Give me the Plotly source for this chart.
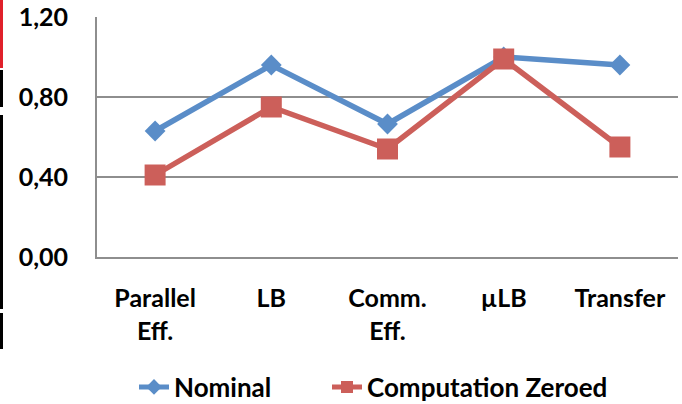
import plotly.graph_objects as go

# Chart data
categories = ["Parallel<br>Eff.", "LB", "Comm.<br>Eff.", "µLB", "Transfer"]
nominal = [0.63, 0.96, 0.665, 1.00, 0.96]
computation_zeroed = [0.41, 0.75, 0.54, 0.99, 0.55]
y_ticks = [0.0, 0.4, 0.8, 1.2]
y_tick_labels = ["0,00", "0,40", "0,80", "1,20"]

W, H = 682, 404
L, R, T, B = 97, 4, 17, 147
FONT = "Lato"
FS = 25
BLUE = "#5A8DC8"
RED = "#CC5F5A"
GRID = "#8E8E8E"

fig = go.Figure()
fig.add_trace(go.Scatter(
    x=categories, y=nominal, name="Nominal", mode="lines+markers",
    line=dict(color=BLUE, width=5.5),
    marker=dict(symbol="diamond", size=16, color=BLUE),
    legend="legend",
))
fig.add_trace(go.Scatter(
    x=categories, y=computation_zeroed, name="Computation Zeroed", mode="lines+markers",
    line=dict(color=RED, width=5.5),
    marker=dict(symbol="square", size=21, color=RED),
    legend="legend2",
))

# Helpers converting page pixels to paper coordinates
pw, ph = W - L - R, H - T - B
def px(x):
    return (x - L) / pw
def py(y):
    return (H - B - y) / ph

edge_strips = [
    (0, 0, 3, 68, "#E0202A"),
    (0, 70, 3, 107, "#000000"),
    (0, 115, 3, 309, "#000000"),
    (0, 313, 3, 349, "#000000"),
]
shapes = [
    dict(type="rect", xref="paper", yref="paper",
         x0=px(x0), x1=px(x1), y0=py(y1), y1=py(y0),
         fillcolor=c, line=dict(width=0), layer="above")
    for x0, y0, x1, y1, c in edge_strips
]

legend_style = dict(
    orientation="h", yanchor="middle", xanchor="left",
    font=dict(family=FONT, size=26, color="#000000", weight="bold"),
    itemsizing="constant", bgcolor="rgba(0,0,0,0)",
)

fig.update_layout(
    width=W, height=H,
    margin=dict(l=L, r=R, t=T, b=B, autoexpand=False),
    paper_bgcolor="white", plot_bgcolor="white",
    font=dict(family=FONT, size=FS, color="#000000"),
    showlegend=True,
    legend=dict(legend_style, x=px(134), y=py(387)),
    legend2=dict(legend_style, x=px(327), y=py(387)),
    shapes=shapes,
    xaxis=dict(
        type="category", range=[-0.5, 4.5],
        showgrid=False, zeroline=False,
        showline=True, linecolor=GRID, linewidth=2,
        ticks="outside", ticklen=18, tickcolor="rgba(0,0,0,0)",
        tickfont=dict(family=FONT, size=FS, weight="bold"),
    ),
    yaxis=dict(
        range=[0, 1.2], tickvals=y_ticks, ticktext=y_tick_labels,
        showgrid=True, gridcolor=GRID, gridwidth=1.5,
        zeroline=False,
        showline=True, linecolor=GRID, linewidth=2,
        ticks="outside", ticklen=22, tickcolor="rgba(0,0,0,0)",
        tickfont=dict(family=FONT, size=FS, weight="bold"),
    ),
)

fig.write_html("out.html")
